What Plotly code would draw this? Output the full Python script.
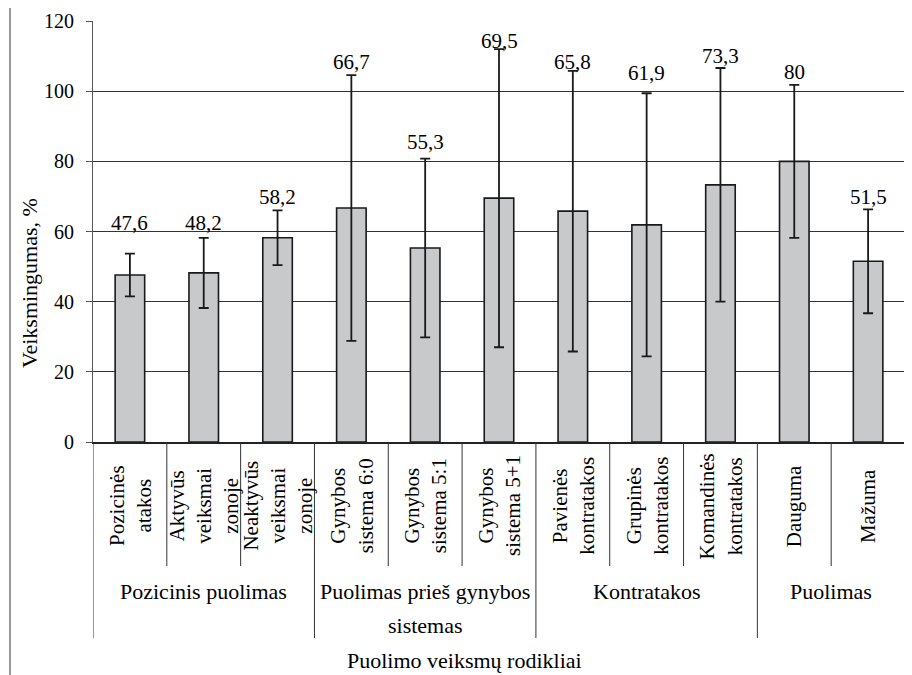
import plotly.graph_objects as go

# ---- data ----
categories = [
    "Pozicinės<br>atakos",
    "Aktyvūs<br>veiksmai<br>zonoje",
    "Neaktyvūs<br>veiksmai<br>zonoje",
    "Gynybos<br>sistema 6:0",
    "Gynybos<br>sistema 5:1",
    "Gynybos<br>sistema 5+1",
    "Pavienės<br>kontratakos",
    "Grupinės<br>kontratakos",
    "Komandinės<br>kontratakos",
    "Dauguma",
    "Mažuma",
]
values = [47.6, 48.2, 58.2, 66.7, 55.3, 69.5, 65.8, 61.9, 73.3, 80, 51.5]
errors = [6.1, 10.0, 7.8, 37.9, 25.5, 42.5, 40.0, 37.5, 33.3, 21.8, 14.8]
groups = ["Pozicinis puolimas", "Puolimas prieš gynybos<br>sistemas", "Kontratakos", "Puolimas"]
group_sizes = [3, 3, 3, 2]
y_title = "Veiksmingumas, %"
x_title = "Puolimo veiksmų rodikliai"

# ---- style / layout helpers ----
FONT = "Liberation Serif"
TXT = "#000000"
OFF = 8  # page body margin
W, H = 912 - OFF, 675 - OFF
ML, MR, MT, MB = 93 - OFF, 7, 21 - OFF, 233
PW, PH = W - ML - MR, H - MT - MB
PLOT_BOTTOM = 442  # page px of y=0
label_nudge = [8.8, 4.2, 3.7, 3.6, 4.8, 2.4, 2.5, 5.7, 3.5, 3.8, 3.6]  # label offset above error cap


def px_x(px):
    return (px - 93) / PW


def px_y(py):
    return (PLOT_BOTTOM - py) / PH


fig = go.Figure()
fig.add_trace(go.Bar(
    x=categories,
    y=values,
    width=0.4,
    marker=dict(color="#c8c9cb", line=dict(color="#1a1a1a", width=1.6)),
    error_y=dict(type="data", array=errors, visible=True,
                 color="#1a1a1a", thickness=1.8, width=5),
    hoverinfo="skip",
))

annotations = []
# value labels
for i, (v, e) in enumerate(zip(values, errors)):
    txt = (f"{v:g}").replace(".", ",")
    annotations.append(dict(
        x=i, y=v + e + label_nudge[i], xref="x", yref="y",
        text=txt, showarrow=False, yanchor="middle", xanchor="center",
        font=dict(family=FONT, size=21, color=TXT),
    ))

# rotated category labels
for i, c in enumerate(categories):
    annotations.append(dict(
        x=i, y=px_y(506), xref="x", yref="paper",
        text=c, showarrow=False, textangle=-90, align="center",
        xanchor="center", yanchor="middle",
        font=dict(family=FONT, size=21, color=TXT),
    ))

# group labels and dividers
shapes = []
start = 0
bounds = [-0.5]
for g, n in zip(groups, group_sizes):
    center = start + (n - 1) / 2
    for k, line in enumerate(g.split("<br>")):
        annotations.append(dict(
            x=center, y=px_y(591 + 34 * k), xref="x", yref="paper",
            text=line, showarrow=False, align="center",
            xanchor="center", yanchor="middle",
            font=dict(family=FONT, size=22, color=TXT),
        ))
    for k in range(1, n):
        b = start + k - 0.5
        shapes.append(dict(type="line", xref="x", yref="paper",
                           x0=b, x1=b, y0=0, y1=px_y(566),
                           line=dict(color="#333333", width=1)))
    start += n
    bounds.append(start - 0.5)

for b in bounds:
    shapes.append(dict(type="line", xref="x", yref="paper",
                       x0=b, x1=b, y0=0, y1=px_y(638),
                       line=dict(color="#333333", width=1)))

# outer frame
shapes.append(dict(type="rect", xref="paper", yref="paper",
                   x0=px_x(10), x1=px_x(916), y0=px_y(680), y1=px_y(7),
                   line=dict(color="#333333", width=1), layer="below"))

# axis titles
annotations.append(dict(
    x=px_x(29), y=px_y(283), xref="paper", yref="paper",
    text=y_title, showarrow=False, textangle=-90,
    xanchor="center", yanchor="middle",
    font=dict(family=FONT, size=22, color=TXT),
))
annotations.append(dict(
    x=px_x(464), y=px_y(660), xref="paper", yref="paper",
    text=x_title, showarrow=False,
    xanchor="center", yanchor="middle",
    font=dict(family=FONT, size=22, color=TXT),
))

fig.update_layout(
    width=W, height=H,
    margin=dict(l=ML, r=MR, t=MT, b=MB, pad=0, autoexpand=False),
    paper_bgcolor="white", plot_bgcolor="white",
    showlegend=False,
    annotations=annotations,
    shapes=shapes,
    font=dict(family=FONT, color=TXT),
)
fig.update_xaxes(
    type="category", range=[-0.5, len(categories) - 0.5],
    showticklabels=False, ticks="", showgrid=False,
    showline=True, linecolor="#222222", linewidth=1.5,
    zeroline=False, fixedrange=True, automargin=False,
)
fig.update_yaxes(
    range=[0, 120], dtick=20, tick0=0,
    showgrid=True, gridcolor="#333333", gridwidth=1,
    zeroline=False,
    showline=True, linecolor="#555555", linewidth=1,
    ticks="outside", ticklen=6, tickcolor="#555555",
    tickfont=dict(family=FONT, size=20, color=TXT),
    ticklabelstandoff=8,
    fixedrange=True, automargin=False,
)

fig.write_html("out.html")
